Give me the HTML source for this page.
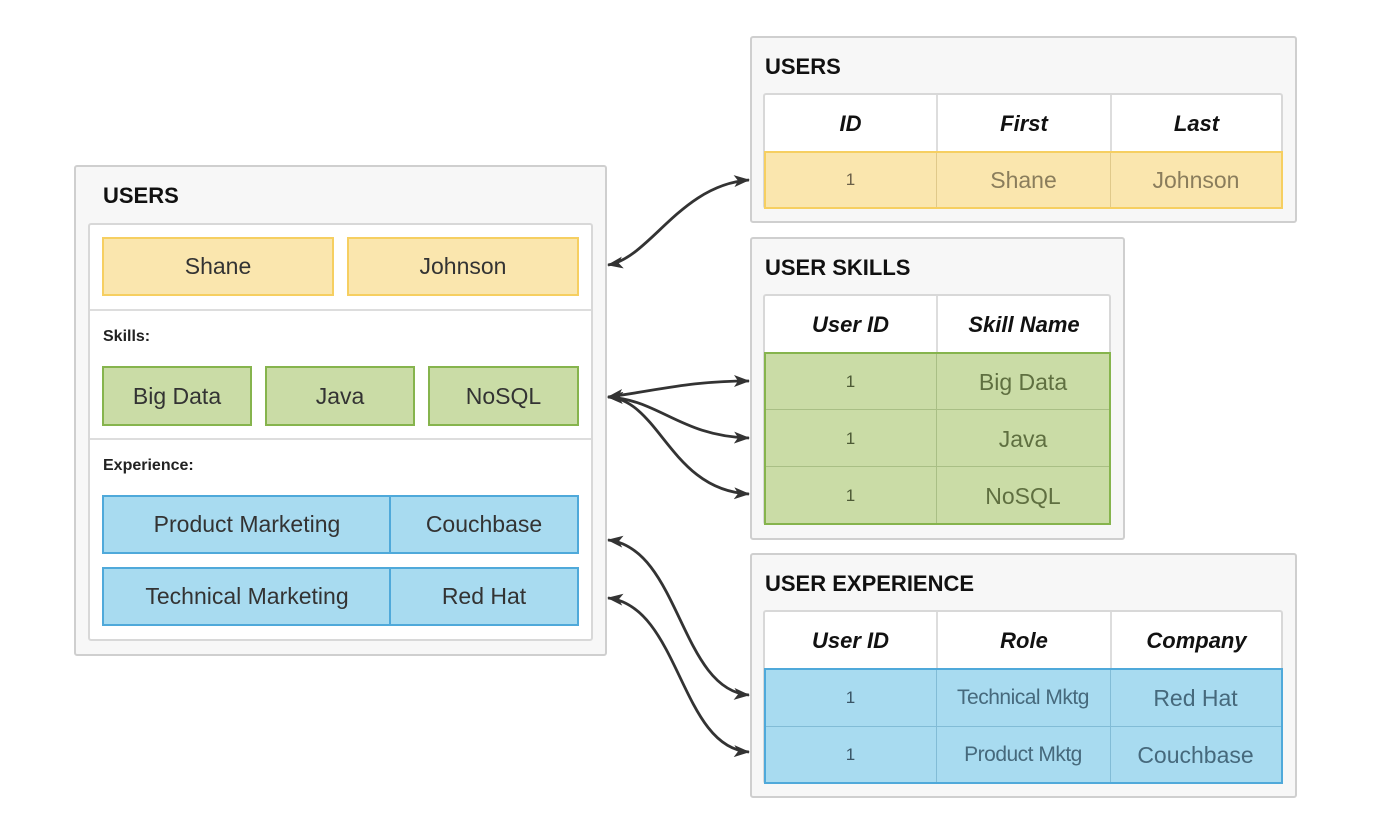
<!DOCTYPE html>
<html><head><meta charset="utf-8"><style>
body{margin:0;width:1384px;height:834px;background:#fff;position:relative;overflow:hidden;font-family:"Liberation Sans",sans-serif;}
div{position:absolute;box-sizing:border-box;}
.o{background:#f7f7f7;border:2px solid #cfcfcf;border-radius:3px;}
.in{background:#fff;border:2px solid #d8d8d8;border-radius:3px;}
.t{font-weight:bold;font-size:22px;color:#111;}
.c{display:flex;align-items:center;justify-content:center;font-size:23px;color:#333;}
.y{background:#fae6ae;border:2px solid #f6cf61;}
.g{background:#cadca6;border:2px solid #86b44d;}
.b{background:#a8dbf0;border:2px solid #4fa9da;}
.h{font-style:italic;font-weight:bold;font-size:22px;color:#111;}
.l{font-size:16px;font-weight:bold;color:#222;}
</style></head><body>
<!-- left -->
<div class="o" style="left:74px;top:165px;width:533px;height:491px"></div>
<div class="t" style="left:103px;top:183px">USERS</div>
<div class="in" style="left:88px;top:223px;width:505px;height:418px"></div>
<div style="left:90px;top:309px;width:501px;height:2px;background:#ddd"></div>
<div style="left:90px;top:438px;width:501px;height:2px;background:#ddd"></div>
<div class="c y" style="left:102px;top:237px;width:232px;height:59px">Shane</div>
<div class="c y" style="left:347px;top:237px;width:232px;height:59px">Johnson</div>
<div class="l" style="left:103px;top:328px">Skills:</div>
<div class="c g" style="left:102px;top:366px;width:150px;height:60px">Big Data</div>
<div class="c g" style="left:265px;top:366px;width:150px;height:60px">Java</div>
<div class="c g" style="left:428px;top:366px;width:151px;height:60px">NoSQL</div>
<div class="l" style="left:103px;top:457px">Experience:</div>
<div class="c b" style="left:102px;top:495px;width:290px;height:59px">Product Marketing</div>
<div class="c b" style="left:389px;top:495px;width:190px;height:59px">Couchbase</div>
<div class="c b" style="left:102px;top:567px;width:290px;height:59px">Technical Marketing</div>
<div class="c b" style="left:389px;top:567px;width:190px;height:59px">Red Hat</div>

<!-- right users -->
<div class="o" style="left:750px;top:36px;width:547px;height:187px"></div>
<div class="t" style="left:765px;top:54px">USERS</div>
<div class="in" style="left:763px;top:93px;width:520px;height:116px"></div>
<div class="c h" style="left:765px;top:95px;width:171px;height:57px">ID</div>
<div class="c h" style="left:936px;top:95px;width:174px;height:57px;border-left:2px solid #ddd">First</div>
<div class="c h" style="left:1110px;top:95px;width:171px;height:57px;border-left:2px solid #ddd">Last</div>
<div class="y" style="left:764px;top:151px;width:519px;height:58px"></div>
<div class="c" style="left:765px;top:153px;width:171px;height:54px;font-size:17px;color:#6b6048">1</div>
<div class="c" style="left:936px;top:153px;width:174px;height:54px;color:#8a7d5c;border-left:1px solid #e0c98a">Shane</div>
<div class="c" style="left:1110px;top:153px;width:171px;height:54px;color:#8a7d5c;border-left:1px solid #e0c98a">Johnson</div>

<!-- skills -->
<div class="o" style="left:750px;top:237px;width:375px;height:303px"></div>
<div class="t" style="left:765px;top:255px">USER SKILLS</div>
<div class="in" style="left:763px;top:294px;width:348px;height:231px"></div>
<div class="c h" style="left:765px;top:296px;width:171px;height:57px">User ID</div>
<div class="c h" style="left:936px;top:296px;width:174px;height:57px;border-left:2px solid #ddd">Skill Name</div>
<div class="g" style="left:764px;top:352px;width:347px;height:173px"></div>
<div style="left:766px;top:409px;width:343px;height:1px;background:#a9bf85"></div>
<div style="left:766px;top:466px;width:343px;height:1px;background:#a9bf85"></div>
<div style="left:936px;top:354px;width:1px;height:169px;background:#a9bf85"></div>
<div class="c" style="left:765px;top:354px;width:171px;height:56px;font-size:17px;color:#4d5a36">1</div>
<div class="c" style="left:936px;top:354px;width:174px;height:56px;color:#5f6f40">Big Data</div>
<div class="c" style="left:765px;top:411px;width:171px;height:56px;font-size:17px;color:#4d5a36">1</div>
<div class="c" style="left:936px;top:411px;width:174px;height:56px;color:#5f6f40">Java</div>
<div class="c" style="left:765px;top:468px;width:171px;height:56px;font-size:17px;color:#4d5a36">1</div>
<div class="c" style="left:936px;top:468px;width:174px;height:56px;color:#5f6f40">NoSQL</div>

<!-- experience -->
<div class="o" style="left:750px;top:553px;width:547px;height:245px"></div>
<div class="t" style="left:765px;top:571px">USER EXPERIENCE</div>
<div class="in" style="left:763px;top:610px;width:520px;height:174px"></div>
<div class="c h" style="left:765px;top:612px;width:171px;height:57px">User ID</div>
<div class="c h" style="left:936px;top:612px;width:174px;height:57px;border-left:2px solid #ddd">Role</div>
<div class="c h" style="left:1110px;top:612px;width:171px;height:57px;border-left:2px solid #ddd">Company</div>
<div class="b" style="left:764px;top:668px;width:519px;height:116px"></div>
<div style="left:766px;top:726px;width:515px;height:1px;background:#82bcd6"></div>
<div style="left:936px;top:670px;width:1px;height:112px;background:#82bcd6"></div>
<div style="left:1110px;top:670px;width:1px;height:112px;background:#82bcd6"></div>
<div class="c" style="left:765px;top:670px;width:171px;height:56px;font-size:17px;color:#3a5566">1</div>
<div class="c" style="left:936px;top:670px;width:174px;height:56px;color:#46697c;font-size:21px;letter-spacing:-0.5px">Technical Mktg</div>
<div class="c" style="left:1110px;top:670px;width:171px;height:56px;color:#46697c">Red Hat</div>
<div class="c" style="left:765px;top:727px;width:171px;height:56px;font-size:17px;color:#3a5566">1</div>
<div class="c" style="left:936px;top:727px;width:174px;height:56px;color:#46697c;font-size:21px;letter-spacing:-0.5px">Product Mktg</div>
<div class="c" style="left:1110px;top:727px;width:171px;height:56px;color:#46697c">Couchbase</div>

<svg width="1384" height="834" style="position:absolute;left:0;top:0" fill="none">
<defs><marker id="a" markerWidth="16" markerHeight="12" refX="15" refY="6" orient="auto-start-reverse" markerUnits="userSpaceOnUse"><path d="M0,0 L16,6 L0,12 L4,6 Z" fill="#333"/></marker></defs>
<g stroke="#333" stroke-width="2.8" marker-start="url(#a)" marker-end="url(#a)">
<path d="M608,265 C650,258 680,185 749,180"/>
<path d="M608,397 C660,390 690,381 749,381"/>
<path d="M608,397 C660,400 680,436 749,438"/>
<path d="M608,397 C660,400 670,490 749,494"/>
<path d="M608,540 C680,548 680,690 749,695"/>
<path d="M608,598 C680,606 680,748 749,752"/>
</g></svg>
</body></html>
